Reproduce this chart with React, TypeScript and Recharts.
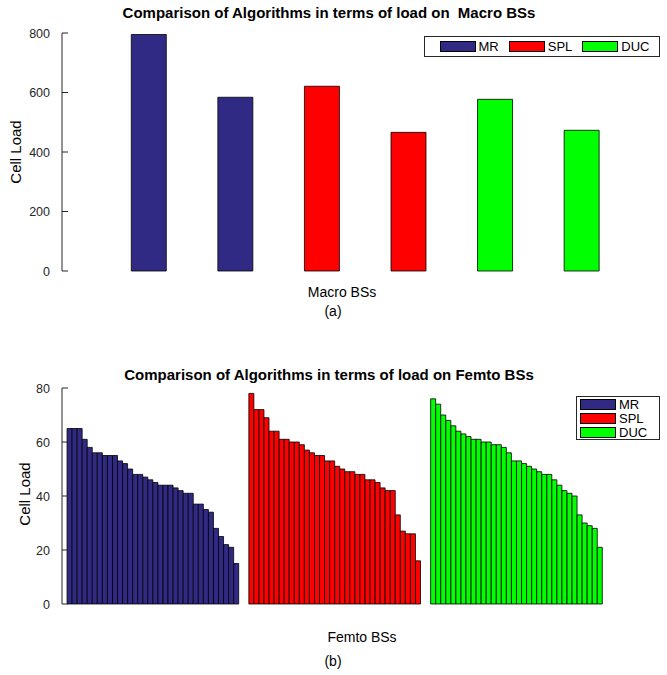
import { Bar, BarChart, Legend, XAxis, YAxis } from "recharts"

const algorithms = ["MR", "SPL", "DUC"]
const colors = ["#312A84", "#FF0000", "#00FF00"]
const axisColor = "#262626"
const font = "'Liberation Sans', Arial, Helvetica, sans-serif"

// load on the two macro BSs for each algorithm
const macroMR = [795, 584]
const macroSPL = [621, 466]
const macroDUC = [577, 473]
const macroTicks = [0, 200, 400, 600, 800]
const macroXTicks = [1, 2, 3, 4, 5, 6]

// load on the femto BSs, sorted high to low
const femtoMR = [65, 65, 65, 61, 58, 56, 56, 55, 55, 55, 53, 52, 50, 48, 48, 47, 46, 45, 44, 44, 44, 43, 42, 41, 41, 37, 37, 35, 34, 28, 25, 22, 21, 15]
const femtoSPL = [78, 72, 72, 69, 64, 64, 61, 61, 60, 60, 59, 57, 56, 55, 55, 53, 53, 51, 50, 49, 49, 48, 48, 46, 46, 45, 43, 42, 42, 33, 27, 26, 26, 16]
const femtoDUC = [76, 74, 70, 68, 66, 64, 63, 62, 61, 61, 60, 60, 59, 59, 58, 56, 53, 53, 52, 51, 50, 49, 48, 48, 46, 44, 42, 41, 40, 33, 30, 29, 28, 21]
const femtoTicks = [0, 20, 40, 60, 80]
const femtoXTicks = [20, 40, 60, 80, 100]

const macroSeries = [macroMR, macroSPL, macroDUC]
const femtoSeries = [femtoMR, femtoSPL, femtoDUC]

// x = 1..6, two bars per algorithm
const macroData = macroSeries.flatMap((vals, g) =>
  vals.map((v, j) => ({ x: g * vals.length + j + 1, [algorithms[g]]: v }))
)

// 120 slots, each algorithm gets 34 bars followed by 2 empty slots
const groupSlots = femtoMR.length + 2
const femtoData = Array.from({ length: 120 }, (_, slot) => {
  const row: Record<string, number> = { slot }
  const i = slot - 1
  if (i >= 0 && i < groupSlots * 3) {
    const g = Math.floor(i / groupSlots)
    const j = i % groupSlots
    if (j < femtoSeries[g].length) row[algorithms[g]] = femtoSeries[g][j]
  }
  return row
})

const LeftTick = (props: any) => {
  const { x, y, payload } = props
  return (
    <g>
      <line x1={x} x2={x + 6} y1={y} y2={y} stroke={axisColor} />
      <text x={x - 12} y={y} dy="0.36em" textAnchor="end" fontSize={12.5} fill={axisColor} fontFamily={font}>
        {payload.value}
      </text>
    </g>
  )
}

const RightTick = (props: any) => {
  const { x, y } = props
  return <line x1={x - 1} x2={x - 7} y1={y} y2={y} stroke={axisColor} />
}

const TopTick = (props: any) => {
  const { x, y, payload, only } = props
  if (only && !only.includes(payload.value)) return <g />
  return <line x1={x} x2={x} y1={y} y2={y + 6} stroke={axisColor} />
}

const legendBox = (vertical: boolean) => () => (
  <div
    style={{
      display: "flex",
      flexDirection: vertical ? "column" : "row",
      alignItems: vertical ? "flex-start" : "center",
      justifyContent: "center",
      border: `1px solid ${axisColor}`,
      background: "#fff",
      boxSizing: "border-box",
      width: vertical ? 84 : 236,
      height: vertical ? 44 : 21,
      padding: vertical ? "0 3px" : "0 0 0 5px",
      gap: vertical ? 1 : 10,
      fontFamily: font,
      fontSize: 13,
      color: "#000",
      lineHeight: "13px",
    }}
  >
    {algorithms.map((name, i) => (
      <div key={name} style={{ display: "flex", alignItems: "center", gap: 3, height: 13 }}>
        <span style={{ width: 36, height: 11, boxSizing: "border-box", background: colors[i], border: "1px solid #000" }} />
        <span>{name}</span>
      </div>
    ))}
  </div>
)

const Text = ({ x, y, children, bold, rotate, size = 14 }: any) => (
  <div
    style={{
      position: "absolute",
      left: x,
      top: y,
      transform: `translate(-50%, -50%)${rotate ? " rotate(-90deg)" : ""}`,
      whiteSpace: "nowrap",
      fontFamily: font,
      fontSize: size,
      fontWeight: bold ? "bold" : "normal",
      color: "#000",
    }}
  >
    {children}
  </div>
)

export default function App() {
  return (
    <div style={{ position: "absolute", left: 0, top: 0, width: 667, height: 675, overflow: "hidden", background: "#fff" }}>
      <div style={{ position: "absolute", left: 0, top: 0 }}>
        <BarChart width={680} height={300} data={macroData} margin={{ top: 33, right: 0, bottom: 29, left: 0 }}>
          <XAxis type="number" dataKey="x" domain={[0, 7]} ticks={macroXTicks} tick={false} tickLine={false} height={0} stroke={axisColor} />
          <XAxis xAxisId="top" orientation="top" type="number" dataKey="x" domain={[0, 7]} ticks={macroXTicks} height={0} tickSize={0} tickMargin={0} tickLine={false} tick={<TopTick />} stroke={axisColor} />
          <YAxis domain={[0, 800]} ticks={macroTicks} width={62} tickSize={0} tickMargin={0} tickLine={false} tick={<LeftTick />} stroke={axisColor} />
          <YAxis yAxisId="right" orientation="right" domain={[0, 800]} ticks={macroTicks} width={12} tickSize={0} tickMargin={0} tickLine={false} tick={<RightTick />} stroke={axisColor} />
          <Legend layout="horizontal" verticalAlign="middle" align="center" content={legendBox(false)} wrapperStyle={{ left: 424, top: 36, width: "auto" }} />
          {algorithms.map((name, i) => (
            <Bar key={name} dataKey={name} stackId="a" barSize={35} fill={colors[i]} stroke="#000" strokeWidth={0.8} isAnimationActive={false} />
          ))}
        </BarChart>
      </div>
      <div style={{ position: "absolute", left: 0, top: 330 }}>
        <BarChart width={680} height={300} data={femtoData} margin={{ top: 58, right: 0, bottom: 26, left: 0 }} barCategoryGap={0} barGap={0}>
          <XAxis dataKey="slot" tick={false} tickLine={false} height={0} stroke="#000" strokeWidth={1.5} />
          <XAxis xAxisId="top" orientation="top" dataKey="slot" interval={0} height={0} tickSize={0} tickMargin={0} tickLine={false} tick={<TopTick only={femtoXTicks} />} stroke={axisColor} />
          <YAxis domain={[0, 80]} ticks={femtoTicks} width={62} tickSize={0} tickMargin={0} tickLine={false} tick={<LeftTick />} stroke={axisColor} />
          <YAxis yAxisId="right" orientation="right" domain={[0, 80]} ticks={femtoTicks} width={12} tickSize={0} tickMargin={0} tickLine={false} tick={<RightTick />} stroke={axisColor} />
          <Legend layout="horizontal" verticalAlign="middle" align="center" content={legendBox(true)} wrapperStyle={{ left: 576, top: 66, width: "auto" }} />
          {algorithms.map((name, i) => (
            <Bar key={name} dataKey={name} stackId="a" fill={colors[i]} stroke="#000" strokeWidth={0.8} isAnimationActive={false} />
          ))}
        </BarChart>
      </div>
      <Text x={329} y={12} bold size={15}>Comparison of Algorithms in terms of load on&nbsp; Macro BSs</Text>
      <Text x={342} y={292}>Macro BSs</Text>
      <Text x={333} y={311}>(a)</Text>
      <Text x={15} y={152} rotate size={15}>Cell Load</Text>
      <Text x={329} y={374} bold size={15}>Comparison of Algorithms in terms of load on Femto BSs</Text>
      <Text x={362} y={637}>Femto BSs</Text>
      <Text x={333} y={661}>(b)</Text>
      <Text x={24} y={494} rotate size={15}>Cell Load</Text>
    </div>
  )
}
